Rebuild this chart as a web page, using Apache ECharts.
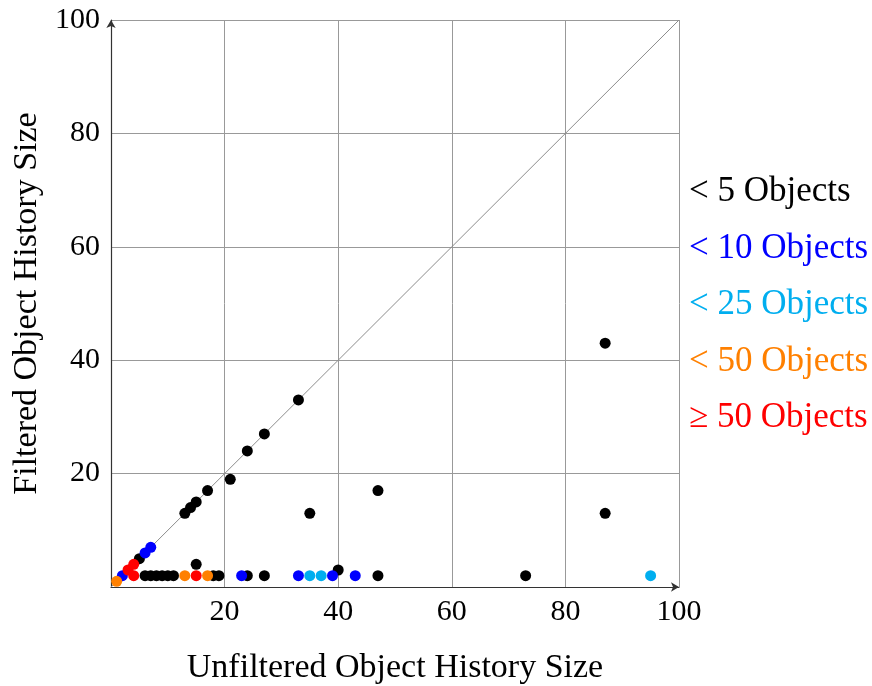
<!DOCTYPE html>
<html>
<head>
<meta charset="utf-8">
<script src="https://cdn.jsdelivr.net/npm/echarts@6/dist/echarts.min.js"></script>
<style>html,body{margin:0;padding:0;background:#fff}#c{width:872px;height:686px}</style>
</head>
<body>
<div id="c"></div>
<script>
const classNames = ['< 5 Objects', '< 10 Objects', '< 25 Objects', '< 50 Objects', '\u2265 50 Objects'];
const classColors = ['#000000', '#0000ff', '#00aeef', '#ff8000', '#ff0000'];
const xTicks = [0, 20, 40, 60, 80, 100];
const yTicks = [0, 20, 40, 60, 80, 100];
const lt5 = [[5,5],[13,13],[14,14],[15,15],[17,17],[24,24],[27,27],[33,33],[21,19],[35,13],[47,17],[87,43],[87,13],[40,3],[15,4],
  [6,2],[7,2],[8,2],[9,2],[10,2],[11,2],[18,2],[19,2],[24,2],[27,2],[47,2],[73,2]];
const lt10 = [[2,2],[6,6],[7,7],[23,2],[33,2],[39,2],[43,2]];
const lt25 = [[35,2],[37,2],[95,2]];
const lt50 = [[1,1],[13,2],[17,2]];
const ge50 = [[3,3],[4,4],[4,2],[15,2]];
const diagonal = [[0,0],[100,100]];
const groups = [lt5, lt10, lt25, lt50, ge50];

const font = '"Liberation Serif", "DejaVu Serif", serif';
const chart = echarts.init(document.getElementById('c'));
const series = [{
  type: 'line', data: diagonal, symbol: 'none', silent: true,
  lineStyle: {color: '#8c8c8c', width: 1}, z: 1
}];
groups.forEach((g, i) => series.push({
  type: 'scatter', name: classNames[i], data: g, symbolSize: 11,
  itemStyle: {color: classColors[i], opacity: 1}, z: 3 + i
}));
const axisCommon = {
  type: 'value', min: xTicks[0], max: xTicks[xTicks.length - 1], interval: xTicks[1] - xTicks[0],
  axisLine: {show: true, lineStyle: {color: '#333', width: 1.2}, symbol: ['none', 'arrow'], symbolSize: [7, 8]},
  axisTick: {show: false},
  splitLine: {show: true, lineStyle: {color: '#999', width: 1}},
  nameLocation: 'middle',
  nameTextStyle: {fontFamily: font, fontSize: 34, color: '#000'}
};
chart.setOption({
  animation: false,
  grid: {left: 111, top: 20, width: 568, height: 567, containLabel: false, outerBoundsMode: 'none'},
  legend: {
    orient: 'vertical', left: 679, top: 166, icon: 'none', itemWidth: 0, itemHeight: 20,
    itemGap: 14.5, selectedMode: false,
    textStyle: {fontFamily: font, fontSize: 35, lineHeight: 42, padding: 0},
    data: classNames.map((n, i) => ({name: n, textStyle: {color: classColors[i]}}))
  },
  xAxis: Object.assign({}, axisCommon, {
    name: 'Unfiltered Object History Size', nameGap: 64,
    axisLabel: {showMinLabel: false, fontFamily: font, fontSize: 30, color: '#000', margin: 10}
  }),
  yAxis: Object.assign({}, axisCommon, {
    min: yTicks[0], max: yTicks[yTicks.length - 1], interval: yTicks[1] - yTicks[0],
    name: 'Filtered Object History Size', nameGap: 59,
    axisLabel: {showMinLabel: false, fontFamily: font, fontSize: 30, color: '#000', margin: 11}
  }),
  series: series
});
</script>
</body>
</html>
